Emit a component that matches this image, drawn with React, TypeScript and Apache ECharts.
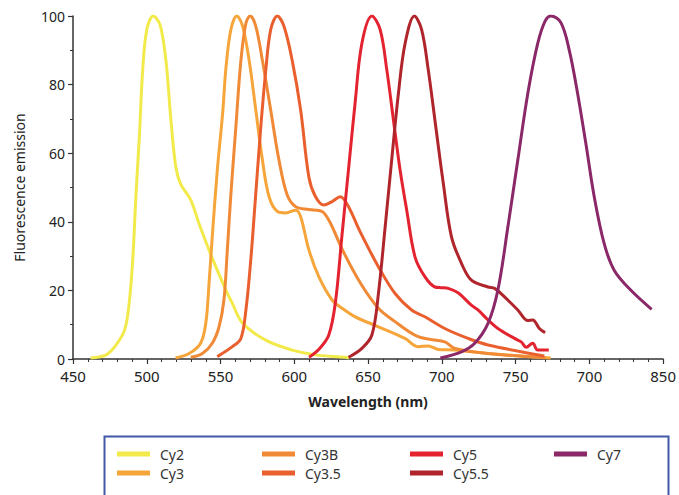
import React, { useEffect, useRef } from "react";
import * as echarts from "echarts";

const seriesNames = ["Cy2", "Cy3", "Cy3B", "Cy3.5", "Cy5", "Cy5.5", "Cy7"];
const seriesColors = ["#F2EA4A", "#F6A53A", "#F08A36", "#E95F2E", "#E42330", "#B0252C", "#8A2868"];

const cy2 = [[462,0.3],[472.5,1.2],[479,4],[485,8.5],[488,16],[490.5,29],[492.7,48],[495,65],[497.2,84],[500,96],[504.4,100],[509,97.4],[513,87],[516.3,70],[519.7,56],[523,51],[529.8,46.4],[535.4,39.5],[544.4,29.4],[553.7,20],[558,16.2],[565,10.4],[580.6,5.5],[598.6,2.6],[614.4,1.2],[634.6,0.5],[637,0.3]];
const cy3 = [[519.5,0.3],[528.7,1.6],[536.5,4.6],[540,10.4],[542.2,22],[544.4,35.7],[547.8,55],[551.5,72],[553.7,85],[557,96],[561,100],[565,97],[569.4,87],[573.9,72.6],[578.4,58],[582.9,47.3],[588.6,43],[594.2,42.6],[601,43.4],[604.3,41.5],[609.9,31.8],[616.6,24],[625.6,17.2],[632.3,14.8],[641.3,12.3],[657,9.4],[675,6],[684,3.6],[690.8,3.8],[697.5,2.8],[708.8,2.6],[731.3,1.6],[773.8,0.3]];
const cy3b = [[529.8,0.5],[537.7,1.6],[544.4,4.6],[549,9.4],[552.3,17.2],[554.5,31],[557,48],[560.4,67.7],[563.8,87],[567.2,97.9],[570.1,100],[573.9,97],[578.4,87],[584,72.6],[589.6,58],[595.2,47.8],[601,44.4],[609.9,43.6],[618.8,43],[624,40],[633,31.5],[645,22],[657,14.8],[668.3,10.9],[684,6.5],[702,5],[708.8,3.1],[731.3,1.6],[770,0.4]];
const cy35 = [[547.8,0.7],[558,3.6],[563.8,6],[567.2,14.3],[570.5,28.9],[573.9,48.3],[577.3,67.7],[580.7,84.3],[584,96],[588.5,100],[593,97],[598.6,87],[604.3,72.6],[609.9,53],[614.4,47.3],[620,44.9],[625.6,45.9],[631.2,47.3],[636.5,44.6],[644.5,37.2],[657,26.9],[668.3,19.1],[679.5,14.3],[688.5,12.3],[702,8.9],[717.8,6],[731.3,4.1],[769.5,0.9]];
const cy5 = [[610,0.5],[617,3],[623.4,7],[627.9,16.6],[632.3,36],[636.8,55.5],[641.3,75],[645.8,92],[652.6,100],[658.2,96],[662.7,84.3],[667.2,69.7],[671.7,55.1],[676.2,43.4],[681.8,29.8],[688.5,24],[695.3,21],[699.8,20.8],[704.3,20.6],[711,19.3],[720,15.7],[724.5,14.3],[731.3,11.4],[738,8.9],[749.3,6],[753.8,5],[757.2,3.4],[761.6,4.6],[765,2.6],[772.5,2.6]];
const cy55 = [[636.8,0.5],[645.8,3.1],[652.6,7],[657,19],[661.6,38.6],[666,58],[670.6,77.5],[675.1,92],[681.4,100],[686.3,96],[690.8,84.3],[695.3,69.7],[701,51.2],[706.5,35.7],[713.3,27.9],[720,23],[731.3,21],[735.8,20.6],[742.5,18.1],[751.5,14.3],[758.3,11.2],[761.6,11.4],[766.1,8.9],[770,7.7]];
const cy7 = [[699,0.3],[713.3,2.1],[722.3,4.6],[731.3,10.4],[738,20.1],[744.8,38.6],[751.5,58],[758.3,77.5],[765,92],[770,98.5],[774,100],[780.8,98],[786.4,90],[792,77.5],[797.6,62.9],[803.3,47.3],[810,33.7],[816.8,25.9],[828,20.1],[842.2,14.5]];
const seriesData = [cy2, cy3, cy3b, cy35, cy5, cy55, cy7];

const xTickLabels = ["450", "500", "550", "600", "650", "700", "750", "700", "850"];
const legendColumns = [["Cy2", "Cy3"], ["Cy3B", "Cy3.5"], ["Cy5", "Cy5.5"], ["Cy7"]];

const FONT = "Noto Sans";

export default function App() {
  const ref = useRef<HTMLDivElement>(null);
  useEffect(() => {
    if (!ref.current) return;
    const chart = echarts.init(ref.current, null, { renderer: "svg" });
    const legendLefts = [117, 262, 410, 554];
    chart.setOption({
      animation: false,
      textStyle: { fontFamily: FONT },
      grid: { left: 73, right: 13, top: 16, bottom: 136, containLabel: false },
      xAxis: {
        type: "value",
        min: 450,
        max: 850,
        interval: 50,
        name: "Wavelength (nm)",
        nameLocation: "middle",
        nameGap: 35,
        nameTextStyle: { fontSize: 14, fontWeight: "bold", color: "#222", fontFamily: FONT },
        axisLine: { lineStyle: { color: "#333", width: 1.5 } },
        axisTick: { show: true, inside: false, length: 5, lineStyle: { color: "#333", width: 1.2 } },
        minorTick: { show: true, splitNumber: 5, length: 3, lineStyle: { color: "#333", width: 1 } },
        splitLine: { show: false },
        axisLabel: {
          fontSize: 15,
          color: "#222",
          margin: 9,
          formatter: (v: number) => xTickLabels[Math.round((v - 450) / 50)] ?? "",
        },
      },
      yAxis: {
        type: "value",
        min: 0,
        max: 100,
        interval: 20,
        name: "Fluorescence emission",
        nameLocation: "middle",
        nameGap: 47,
        nameTextStyle: { fontSize: 14, color: "#222", fontFamily: FONT },
        axisLine: { show: true, lineStyle: { color: "#333", width: 1.5 } },
        axisTick: { show: true, inside: false, length: 5, lineStyle: { color: "#333", width: 1.2 } },
        minorTick: { show: true, splitNumber: 2, length: 3, lineStyle: { color: "#333", width: 1 } },
        splitLine: { show: false },
        axisLabel: { fontSize: 14, color: "#222", margin: 8 },
      },
      legend: legendColumns.map((col, i) => ({
        data: col,
        orient: "vertical",
        left: legendLefts[i],
        top: 447,
        padding: 0,
        icon: "rect",
        itemWidth: 33,
        itemHeight: 5,
        itemGap: 5,
        textStyle: { fontSize: 14, color: "#333", fontFamily: FONT, padding: [0, 0, 0, 5] },
      })),
      graphic: [
        {
          type: "rect",
          left: 102,
          top: 434,
          shape: { width: 564, height: 90 },
          style: { fill: "none", stroke: "#4258A8", lineWidth: 2 },
          silent: true,
        },
      ],
      series: seriesNames.map((name, i) => ({
        name,
        type: "line",
        data: seriesData[i],
        smooth: 0.35,
        showSymbol: false,
        symbol: "none",
        lineStyle: { color: seriesColors[i], width: 3 },
        itemStyle: { color: seriesColors[i] },
      })),
    });
    return () => chart.dispose();
  }, []);
  return <div ref={ref} style={{ width: 679, height: 495, position: "absolute", left: 0, top: 0 }} />;
}
